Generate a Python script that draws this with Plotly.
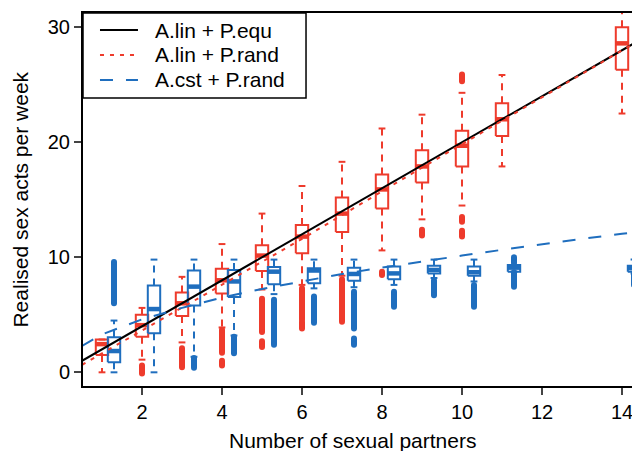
import plotly.graph_objects as go

# ---------------- data ----------------
RED = "#EE3B2C"
BLUE = "#1F6EBE"

# A.lin + P.rand (red boxes)
red_x = [1, 2, 3, 4, 5, 6, 7, 8, 9, 10, 11, 14]
red_q1 = [1.5, 3.1, 4.9, 6.85, 8.8, 10.35, 12.2, 14.25, 16.5, 17.9, 20.55, 26.3]
red_med = [2.45, 4.1, 6.0, 8.0, 10.15, 11.8, 13.8, 15.9, 17.9, 19.7, 22.0, 28.6]
red_q3 = [2.85, 5.0, 6.95, 9.0, 11.05, 12.8, 15.2, 17.2, 19.3, 21.0, 23.4, 30.0]
red_lo = [0.0, 1.1, 2.6, 3.9, 7.2, 7.6, 8.4, 10.6, 13.3, 14.5, 17.9, 22.5]
red_hi = [2.85, 5.6, 8.3, 11.15, 13.8, 16.2, 18.3, 21.2, 22.4, 24.3, 25.85, 33.0]
red_out_x = [2, 3, 4, 4, 5, 5, 6, 6, 7, 8, 9, 10, 10, 10]
red_out_lo = [-0.1, 0.45, 1.7, 0.6, 3.5, 2.2, 4.6, 3.8, 4.4, 8.45, 11.9, 25.3, 13.1, 11.8]
red_out_hi = [0.6, 2.1, 3.7, 1.0, 6.4, 2.7, 7.3, 4.4, 8.1, 8.75, 12.4, 25.9, 13.5, 12.3]

# A.cst + P.rand (blue boxes)
blue_x = [1.3, 2.3, 3.3, 4.3, 5.3, 6.3, 7.3, 8.3, 9.3, 10.3, 11.3, 14.3]
blue_q1 = [0.87, 3.4, 5.8, 6.55, 7.65, 7.75, 7.95, 8.1, 8.6, 8.4, 8.75, 8.75]
blue_med = [1.85, 5.5, 7.45, 7.9, 8.75, 8.85, 8.55, 8.6, 8.9, 8.7, 9.1, 9.05]
blue_q3 = [3.05, 7.55, 8.85, 8.9, 9.15, 9.05, 9.1, 9.2, 9.27, 9.2, 9.33, 9.27]
blue_lo = [0.0, 0.0, 1.35, 3.2, 6.8, 7.3, 7.4, 7.6, 8.2, 7.9, 8.75, 8.6]
blue_hi = [4.5, 9.8, 9.8, 9.8, 9.8, 9.8, 9.8, 9.8, 9.8, 9.8, 9.33, 9.8]
blue_out_x = [1.3, 3.3, 4.3, 5.3, 6.3, 7.3, 7.3, 8.3, 9.3, 10.3, 11.3, 11.3, 14.3]
blue_out_lo = [6.0, 0.4, 1.65, 2.4, 4.3, 3.8, 2.4, 5.7, 6.7, 5.7, 9.5, 7.45, 7.6]
blue_out_hi = [9.6, 1.25, 3.1, 6.3, 6.6, 7.0, 2.95, 7.0, 8.0, 7.6, 10.0, 8.7, 8.6]

# fitted lines
equ_x = [0.5, 14.5]
equ_y = [1.0, 29.0]
rand_x = [0.5, 3, 6, 9, 12, 14.5]
rand_y = [0.65, 5.6, 11.6, 17.8, 23.9, 29.0]
cst_x = [0.5, 1, 2, 3, 4, 5, 6, 7, 8, 9, 10, 11, 12, 13, 14, 14.5]
cst_y = [2.3, 3.3, 4.6, 5.6, 6.5, 7.25, 7.9, 8.55, 9.1, 9.65, 10.15, 10.65, 11.15, 11.6, 12.05, 12.25]

legend_labels = ["A.lin + P.equ", "A.lin + P.rand", "A.cst + P.rand"]
x_ticks = [2, 4, 6, 8, 10, 12, 14]
y_ticks = [0, 10, 20, 30]

HW = 0.155   # half box width
CW = 0.085   # half cap width

fig = go.Figure()


def add_boxes(xs, q1, med, q3, lo, hi, ox, olo, ohi, color):
    bx, by, mx, my, wx, wy, cx, cy = [], [], [], [], [], [], [], []
    for x, a, m, b, l, h in zip(xs, q1, med, q3, lo, hi):
        bx += [x - HW, x + HW, x + HW, x - HW, x - HW, None]
        by += [a, a, b, b, a, None]
        mx += [x - HW, x + HW, None]
        my += [m, m, None]
        wx += [x, x, None, x, x, None]
        wy += [b, h, None, a, l, None]
        cx += [x - CW, x + CW, None, x - CW, x + CW, None]
        cy += [h, h, None, l, l, None]
    common = dict(mode="lines", showlegend=False, hoverinfo="skip")
    fig.add_trace(go.Scatter(x=wx, y=wy, line=dict(color=color, width=2, dash="7px,6px"), **common))
    fig.add_trace(go.Scatter(x=cx, y=cy, line=dict(color=color, width=2), **common))
    ox2, oy2 = [], []
    for x, l, h in zip(ox, olo, ohi):
        ox2 += [x, x, None]
        oy2 += [l, h, None]
    fig.add_trace(go.Scatter(x=ox2, y=oy2, mode="lines+markers",
                             line=dict(color=color, width=6),
                             marker=dict(color=color, size=6),
                             showlegend=False, hoverinfo="skip"))
    fig.add_trace(go.Scatter(x=bx, y=by, line=dict(color=color, width=2), **common))
    fig.add_trace(go.Scatter(x=mx, y=my, line=dict(color=color, width=4.5), **common))


add_boxes(red_x, red_q1, red_med, red_q3, red_lo, red_hi,
          red_out_x, red_out_lo, red_out_hi, RED)
add_boxes(blue_x, blue_q1, blue_med, blue_q3, blue_lo, blue_hi,
          blue_out_x, blue_out_lo, blue_out_hi, BLUE)

line_styles = [dict(color="black", width=2),
               dict(color=RED, width=2, dash="4px,6px"),
               dict(color=BLUE, width=2, dash="13px,13px")]

for lx, ly, name, st in zip([equ_x, rand_x, cst_x], [equ_y, rand_y, cst_y],
                            legend_labels, line_styles):
    fig.add_trace(go.Scatter(x=lx, y=ly, mode="lines", name=name, line=st,
                             showlegend=False))

# legend drawn as an R-style boxed key in paper coordinates
shapes = [dict(type="rect", xref="paper", yref="paper", x0=0, x1=0.4004,
               y0=0.772, y1=1.0, line=dict(color="black", width=1.5),
               fillcolor="white", layer="above")]
annots = []
row_y = [0.9544, 0.8874, 0.8204]
for yy, name, st in zip(row_y, legend_labels, line_styles):
    shapes.append(dict(type="line", xref="paper", yref="paper", x0=0.0305, x1=0.0987,
                       y0=yy, y1=yy, line=st, layer="above"))
    annots.append(dict(text=name, xref="paper", yref="paper", x=0.1257, y=yy,
                       xanchor="left", yanchor="middle", showarrow=False,
                       font=dict(size=21)))

FONT = "Liberation Sans, Arial, sans-serif"

annots += [
    dict(text="Number of sexual partners", xref="paper", yref="paper",
         x=0.483, y=-0.145, xanchor="center", yanchor="middle",
         showarrow=False, font=dict(size=21)),
    dict(text="Realised sex acts per week", xref="paper", yref="paper",
         x=-0.113, y=0.5, xanchor="center", yanchor="middle", textangle=-90,
         showarrow=False, font=dict(size=21)),
]

fig.update_layout(
    width=632, height=443,
    margin=dict(l=75, r=0, t=5, b=65),
    paper_bgcolor="white", plot_bgcolor="white",
    font=dict(family=FONT, size=20, color="black"),
    showlegend=False,
    xaxis=dict(range=[0.525, 14.45], tickvals=x_ticks, ticks="outside", ticklen=7,
               tickwidth=1.5, showline=True, linewidth=2, linecolor="black",
               mirror=True, showgrid=False, zeroline=False,
               tickfont=dict(size=20)),
    yaxis=dict(range=[-1.19, 31.24], tickvals=y_ticks, ticks="outside", ticklen=7,
               tickwidth=1.5, showline=True, linewidth=2, linecolor="black",
               showgrid=False, zeroline=False, tickfont=dict(size=20)),
    shapes=shapes,
    annotations=annots,
)

fig.write_html("out.html")
